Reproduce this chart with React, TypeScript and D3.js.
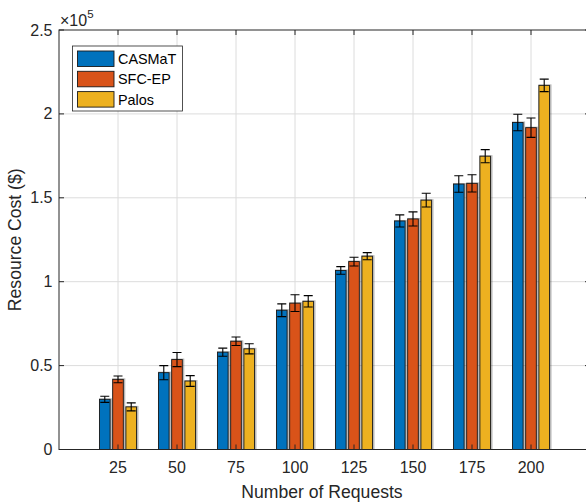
import React from "react";
import * as d3 from "d3";

const categories = [25, 50, 75, 100, 125, 150, 175, 200];
const seriesNames = ["CASMaT", "SFC-EP", "Palos"];
const casmat = [29900, 45800, 58000, 83000, 106700, 136200, 158200, 194900];
const casmatErr = [1800, 4200, 2400, 3800, 2300, 3600, 4900, 4900];
const sfcep = [41800, 53600, 64500, 87200, 112000, 137400, 158600, 191800];
const sfcepErr = [2000, 4200, 2500, 5000, 2600, 4200, 5100, 5800];
const palos = [25400, 40800, 60000, 88300, 115200, 148600, 174800, 217000];
const palosErr = [2400, 3200, 3000, 3400, 2100, 4100, 3900, 3700];
const yTicks = [0, 50000, 100000, 150000, 200000, 250000];
const yTickLabels = ["0", "0.5", "1", "1.5", "2", "2.5"];

const colors = ["#0072BD", "#D95319", "#EDB120"];
const values = [casmat, sfcep, palos];
const errors = [casmatErr, sfcepErr, palosErr];

const width = 586;
const height = 504;
const margin = { left: 59, top: 30, right: 590, bottom: 449.5 };
const textColor = "#262626";
const font = "'Liberation Sans', Arial, Helvetica, sans-serif";

const App = () => {
  const x = d3.scaleLinear().domain([0, 225]).range([margin.left, margin.right]);
  const y = d3.scaleLinear().domain([0, 250000]).range([margin.bottom, margin.top]);

  const pitch = 5.6;
  const barW = 4.5;
  const capHalf = 4.5;

  return (
    <svg
      width={width}
      height={height}
      style={{ position: "absolute", left: 0, top: 0, background: "#fff" }}
      fontFamily={font}
    >
      <defs>
        <clipPath id="plot">
          <rect x={margin.left} y={margin.top} width={margin.right - margin.left} height={margin.bottom - margin.top} />
        </clipPath>
      </defs>

      {/* grid */}
      <g stroke="#dcdcdc" strokeWidth={1}>
        {categories.map(c => (
          <line key={"gx" + c} x1={x(c)} x2={x(c)} y1={margin.top} y2={margin.bottom} />
        ))}
        {yTicks.slice(1, -1).map(t => (
          <line key={"gy" + t} x1={margin.left} x2={margin.right} y1={y(t)} y2={y(t)} />
        ))}
      </g>

      {/* bars */}
      <g clipPath="url(#plot)">
        {values.map((series, s) =>
          series.map((v, i) => {
            const cx = x(categories[i] + (s - 1) * pitch);
            const w = x(barW) - x(0);
            return (
              <g key={s + "-" + i}>
                <rect x={cx - w / 2 - 0.5} y={y(v) - 1} width={w + 2.5} height={y(0) - y(v) + 1} fill="#000" opacity={0.28} />
                <rect x={cx - w / 2} y={y(v)} width={w} height={y(0) - y(v)} fill={colors[s]} stroke="#1a1a1a" strokeWidth={0.9} />
              </g>
            );
          })
        )}
        {values.map((series, s) =>
          series.map((v, i) => {
            const cx = x(categories[i] + (s - 1) * pitch);
            const e = errors[s][i];
            return (
              <g key={"e" + s + "-" + i} stroke="#000" strokeWidth={1.1}>
                <line x1={cx} x2={cx} y1={y(v - e)} y2={y(v + e)} />
                <line x1={cx - capHalf} x2={cx + capHalf} y1={y(v + e)} y2={y(v + e)} />
                <line x1={cx - capHalf} x2={cx + capHalf} y1={y(v - e)} y2={y(v - e)} />
              </g>
            );
          })
        )}
      </g>

      {/* axes box */}
      <g stroke={textColor} strokeWidth={1} fill="none">
        <rect x={margin.left} y={margin.top} width={margin.right - margin.left} height={margin.bottom - margin.top} />
        {categories.map(c => (
          <g key={"tx" + c}>
            <line x1={x(c)} x2={x(c)} y1={margin.bottom} y2={margin.bottom - 5} />
            <line x1={x(c)} x2={x(c)} y1={margin.top} y2={margin.top + 5} />
          </g>
        ))}
        {yTicks.map(t => (
          <g key={"ty" + t}>
            <line x1={margin.left} x2={margin.left + 5} y1={y(t)} y2={y(t)} />
            <line x1={margin.right} x2={margin.right - 5} y1={y(t)} y2={y(t)} />
          </g>
        ))}
      </g>

      {/* tick labels */}
      <g fill={textColor} fontSize={16}>
        {categories.map(c => (
          <text key={"lx" + c} x={x(c)} y={473} textAnchor="middle">{c}</text>
        ))}
        {yTicks.map((t, i) => (
          <text key={"ly" + t} x={52.5} y={y(t) + 5.5} textAnchor="end">{yTickLabels[i]}</text>
        ))}
        <text x={60} y={26}>
          ×10<tspan fontSize={11.5} dy={-8}>5</tspan>
        </text>
      </g>

      {/* axis labels */}
      <text x={322} y={498} textAnchor="middle" fontSize={17.6} fill={textColor}>
        Number of Requests
      </text>
      <text
        transform={`translate(21 ${(margin.top + margin.bottom) / 2}) rotate(-90)`}
        textAnchor="middle"
        fontSize={17.6}
        fill={textColor}
      >
        Resource Cost ($)
      </text>

      {/* legend */}
      <g>
        <rect x={72.5} y={46} width={110} height={65} fill="#fff" stroke={textColor} strokeWidth={0.8} />
        {seriesNames.map((n, i) => (
          <g key={n}>
            <rect x={77.5} y={51 + i * 20.3} width={36.5} height={15.5} fill={colors[i]} stroke="#1a1a1a" strokeWidth={0.9} />
            <text x={118} y={64 + i * 20.3} fontSize={14.4} fill="#000">{n}</text>
          </g>
        ))}
      </g>
    </svg>
  );
};

export default App;
